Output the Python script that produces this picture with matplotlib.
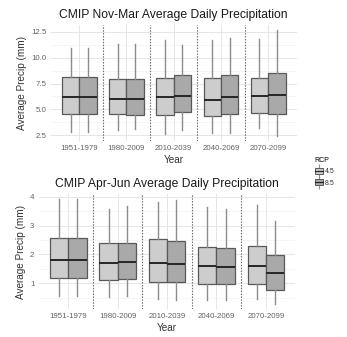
import matplotlib
matplotlib.use("Agg")
import matplotlib.pyplot as plt
from matplotlib.patches import Patch
from matplotlib.lines import Line2D

# ---- datos (resumen de cajas) ----
periodos = ["1951-1979", "1980-2009", "2010-2039", "2040-2069", "2070-2099"]
rcps = ["4.5", "8.5"]

# Nov-Mar
nm_45_min = [2.79, 2.98, 2.63, 2.66, 3.15]
nm_45_q1 = [4.56, 4.52, 4.47, 4.37, 4.63]
nm_45_med = [6.21, 6.01, 6.15, 5.92, 6.30]
nm_45_q3 = [8.09, 7.89, 8.02, 7.99, 8.05]
nm_45_max = [10.99, 11.38, 11.70, 11.70, 11.80]

nm_85_min = [2.79, 3.05, 3.01, 2.70, 2.43]
nm_85_q1 = [4.56, 4.47, 4.70, 4.52, 4.56]
nm_85_med = [6.21, 6.01, 6.25, 6.15, 6.40]
nm_85_q3 = [8.09, 7.89, 8.31, 8.31, 8.53]
nm_85_max = [10.99, 11.30, 11.28, 11.92, 12.66]

# Apr-Jun
aj_45_min = [0.56, 0.52, 0.46, 0.43, 0.47]
aj_45_q1 = [1.20, 1.11, 1.06, 0.98, 0.96]
aj_45_med = [1.81, 1.72, 1.70, 1.59, 1.59]
aj_45_q3 = [2.56, 2.41, 2.54, 2.27, 2.29]
aj_45_max = [3.91, 3.57, 3.82, 3.63, 3.72]

aj_85_min = [0.56, 0.57, 0.43, 0.43, 0.29]
aj_85_q1 = [1.20, 1.14, 1.06, 0.96, 0.77]
aj_85_med = [1.81, 1.74, 1.66, 1.56, 1.37]
aj_85_q3 = [2.56, 2.41, 2.48, 2.21, 1.98]
aj_85_max = [3.91, 3.68, 3.89, 3.59, 3.15]

colores = {"4.5": "#cdcdcd", "8.5": "#a9a9a9"}
borde = "#595959"
bigote = "#8c8c8c"
gris_texto = "#636363"

plt.rcParams["font.family"] = ["Liberation Sans", "DejaVu Sans"]


def stats(mn, q1, med, q3, mx):
    return [dict(whislo=a, q1=b, med=c, q3=d, whishi=e, fliers=[])
            for a, b, c, d, e in zip(mn, q1, med, q3, mx)]


def panel(ax, serie45, serie85, titulo, yticks, yminor, ylim):
    ancho = 0.37
    for serie, rcp, dx in [(serie45, "4.5", -ancho / 2), (serie85, "8.5", ancho / 2)]:
        pos = [i + 1 + dx for i in range(len(periodos))]
        ax.bxp(stats(*serie), positions=pos, widths=ancho, patch_artist=True,
               showfliers=False, showcaps=False,
               boxprops=dict(facecolor=colores[rcp], edgecolor=borde, linewidth=0.9),
               whiskerprops=dict(color=bigote, linewidth=1.0),
               medianprops=dict(color="#262626", linewidth=1.4),
               zorder=3)
    # separadores entre periodos (punteados)
    for x in range(1, len(periodos)):
        ax.axvline(x + 0.5, color="#6a6a6a", lw=0.8, ls=(0, (1.3, 1.3)), zorder=2)
    ax.set_xlim(0.4, len(periodos) + 0.6)
    ax.set_ylim(*ylim)
    ax.set_xticks(range(1, len(periodos) + 1))
    ax.set_xticklabels(periodos)
    ax.set_yticks(yticks)
    ax.set_yticks(yminor, minor=True)
    ax.grid(which="major", color="#e6e6e6", lw=0.7, zorder=0)
    ax.grid(which="minor", axis="y", color="#f1f1f1", lw=0.5, zorder=0)
    ax.tick_params(which="both", length=0, labelsize=5.7, labelcolor=gris_texto, pad=3)
    for s in ax.spines.values():
        s.set_visible(False)
    ax.set_axisbelow(True)
    ax.set_title(titulo, fontsize=8.7, color="#1a1a1a", pad=5)
    ax.set_xlabel("Year", fontsize=7.2, color="#333333", labelpad=2)
    ax.set_ylabel("Average Precip (mm)", fontsize=7.2, color="#333333", labelpad=3)


# ---- figura ----
fig = plt.figure(figsize=(3.47, 3.37), dpi=100)
ax1 = fig.add_axes([0.1467, 0.5816, 0.708, 0.344])
ax2 = fig.add_axes([0.1115, 0.0831, 0.740, 0.341])

panel(ax1,
      (nm_45_min, nm_45_q1, nm_45_med, nm_45_q3, nm_45_max),
      (nm_85_min, nm_85_q1, nm_85_med, nm_85_q3, nm_85_max),
      "CMIP Nov-Mar Average Daily Precipitation",
      [2.5, 5.0, 7.5, 10.0, 12.5], [3.75, 6.25, 8.75, 11.25], (1.92, 13.17))
ax1.set_yticklabels(["2.5", "5.0", "7.5", "10.0", "12.5"])

panel(ax2,
      (aj_45_min, aj_45_q1, aj_45_med, aj_45_q3, aj_45_max),
      (aj_85_min, aj_85_q1, aj_85_med, aj_85_q3, aj_85_max),
      "CMIP Apr-Jun Average Daily Precipitation",
      [1, 2, 3, 4], [0.5, 1.5, 2.5, 3.5], (0.11, 4.09))

# ---- leyenda ----
handles = []
for rcp in rcps:
    handles.append((Line2D([], [], color=bigote, marker="|", markersize=10, ls="none", mew=0.8),
                    Patch(facecolor=colores[rcp], edgecolor=borde, linewidth=0.7),
                    Line2D([], [], color="#262626", lw=0.9)))
leg = fig.legend(handles, rcps, title="RCP", loc="upper left",
                 bbox_to_anchor=(310 / 347, 1 - 152 / 337), frameon=False,
                 fontsize=5, title_fontsize=5, handlelength=1.1, handleheight=0.9,
                 handletextpad=0.3, labelspacing=0.6, borderpad=0.2)
leg._legend_box.align = "left"
for t in leg.get_texts():
    t.set_color("#333333")

fig.savefig("out.png", dpi=100)
